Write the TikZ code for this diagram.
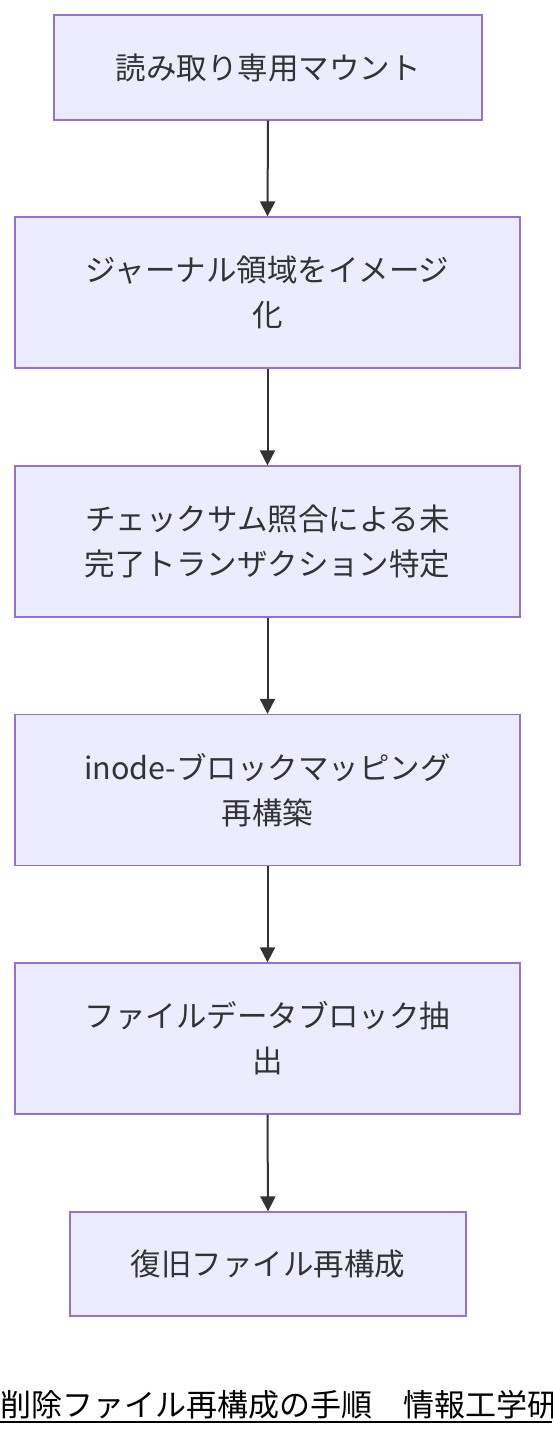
\documentclass[tikz,border=0pt]{standalone}
\usepackage{fontspec}
\setmainfont{Noto Sans CJK JP}
\usetikzlibrary{arrows.meta}
\definecolor{boxfill}{HTML}{ECECFF}
\definecolor{boxline}{HTML}{9370DB}
\definecolor{ink}{HTML}{333333}
\tikzset{
  stepbox/.style={draw=boxline, fill=boxfill, line width=1.3pt, inner sep=0pt,
    align=center, text=ink, font=\fontsize{30.5}{45}\selectfont},
  flow/.style={draw=ink, line width=2pt, -{Triangle[length=15pt,width=15pt]}}
}
\begin{document}
\begin{tikzpicture}[x=1pt,y=1pt]
\clip (0,0) rectangle (552,-1436);
\fill[white] (0,0) rectangle (552,-1436);
\node[stepbox, minimum width=428pt, minimum height=105pt] (n1) at (268,-67.5) {読み取り専用マウント};
\node[stepbox, minimum width=505pt, minimum height=151pt] (n2) at (267.5,-292.5) {ジャーナル領域をイメージ\\化};
\node[stepbox, minimum width=505pt, minimum height=151pt] (n3) at (267.5,-541.5) {チェックサム照合による未\\完了トランザクション特定};
\node[stepbox, minimum width=505pt, minimum height=151pt] (n4) at (267.5,-790) {inode-ブロックマッピング\\再構築};
\node[stepbox, minimum width=505pt, minimum height=151pt] (n5) at (267.5,-1038.5) {ファイルデータブロック抽\\出};
\node[stepbox, minimum width=396pt, minimum height=104pt] (n6) at (268,-1264) {復旧ファイル再構成};
\draw[flow] (n1.south) -- (n2.north);
\draw[flow] (n2.south) -- (n3.north);
\draw[flow] (n3.south) -- (n4.north);
\draw[flow] (n4.south) -- (n5.north);
\draw[flow] (n5.south) -- (n6.north);
\node[anchor=base west, inner sep=0pt, font=\fontsize{31}{36}\selectfont, text=black] (cap) at (0,-1416) {削除ファイル再構成の手順　情報工学研};
\coordinate (ul1) at (0,-1422);
\coordinate (ul2) at (552,-1422);
\draw[black, line width=2pt] (ul1) -- (ul2);
\end{tikzpicture}
\end{document}
